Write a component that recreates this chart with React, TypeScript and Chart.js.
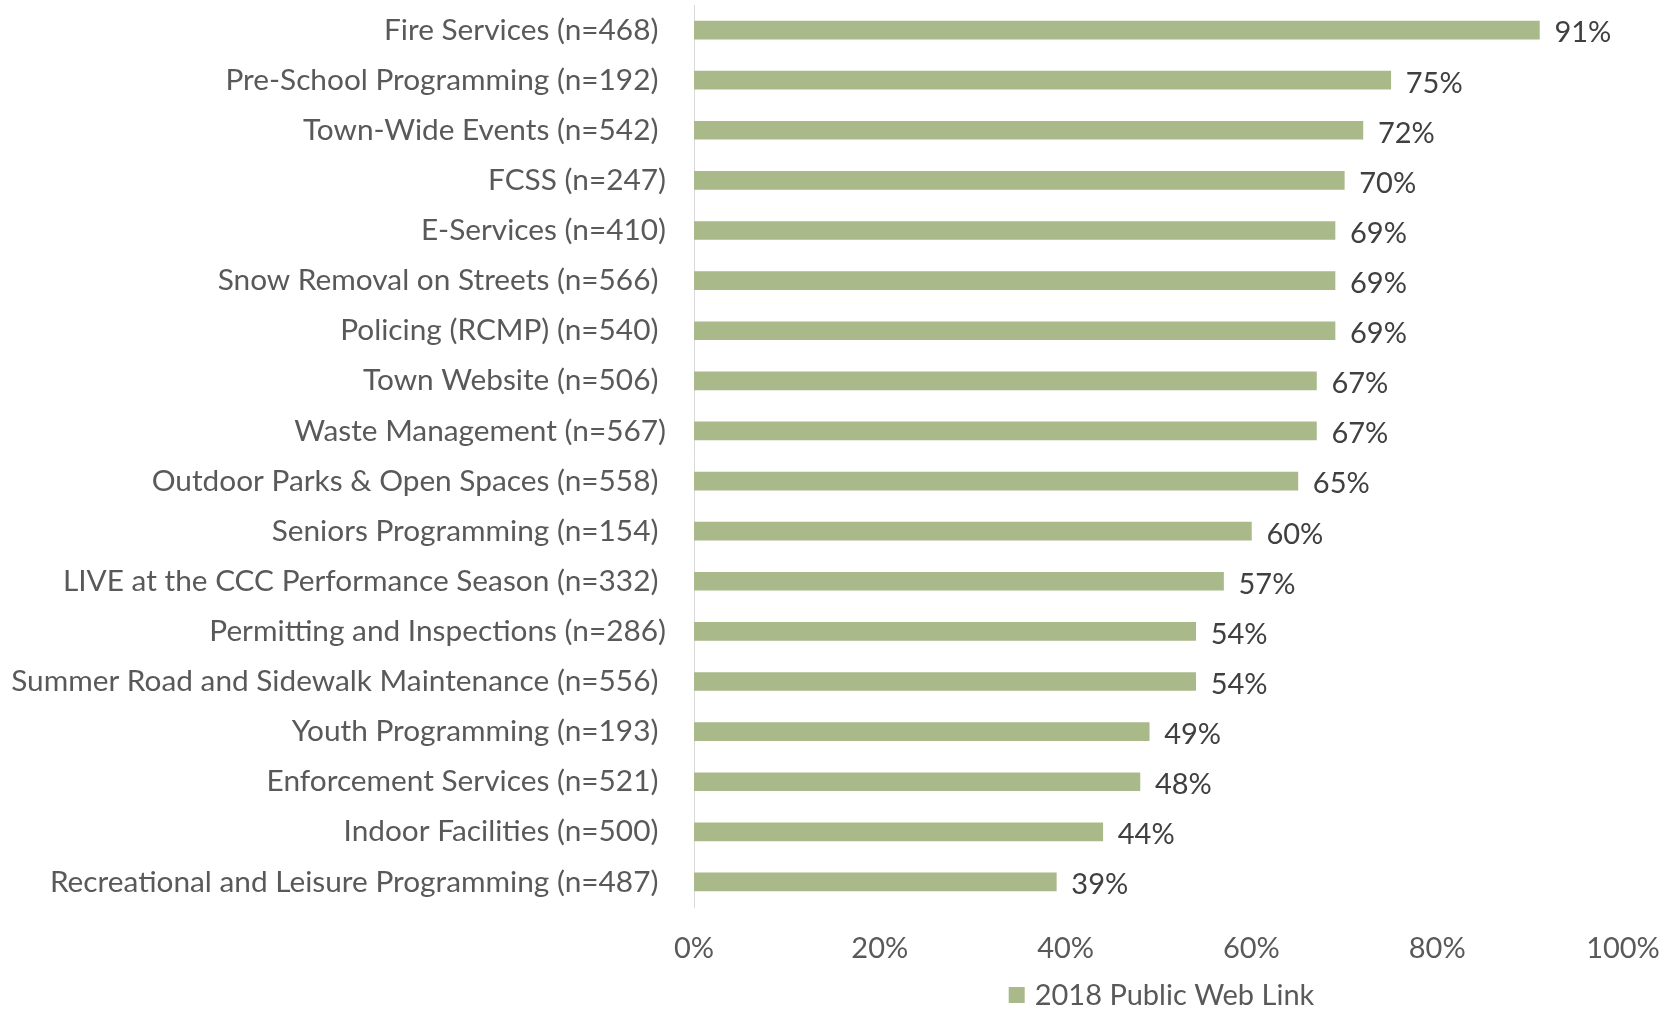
import React, { useEffect, useRef } from "react";
import { Chart, registerables } from "chart.js";

Chart.register(...registerables);

const categories = [
  "Fire Services (n=468) ",
  "Pre-School Programming (n=192) ",
  "Town-Wide Events (n=542) ",
  "FCSS (n=247)",
  "E-Services (n=410)",
  "Snow Removal on Streets (n=566) ",
  "Policing (RCMP) (n=540) ",
  "Town Website (n=506) ",
  "Waste Management (n=567)",
  "Outdoor Parks & Open Spaces (n=558) ",
  "Seniors Programming (n=154) ",
  "LIVE at the CCC Performance Season (n=332) ",
  "Permitting and Inspections (n=286)",
  "Summer Road and Sidewalk Maintenance (n=556) ",
  "Youth Programming (n=193) ",
  "Enforcement Services (n=521) ",
  "Indoor Facilities (n=500) ",
  "Recreational and Leisure Programming (n=487) ",
];

const values = [91, 75, 72, 70, 69, 69, 69, 67, 67, 65, 60, 57, 54, 54, 49, 48, 44, 39];

const seriesLabel = "2018 Public Web Link";

const xTicks = [0, 20, 40, 60, 80, 100];

const FONT_FAMILY = "Lato, 'Open Sans', sans-serif";
const LABEL_SIZE = 29.8;
const SMALL_SIZE = 29;
const AXIS_TEXT = "#595959";
const VALUE_TEXT = "#404040";
const BAR_COLOR = "#A9B98A";

export default function App() {
  const ref = useRef<HTMLCanvasElement>(null);

  useEffect(() => {
    if (!ref.current) return;

    const valueLabels = {
      id: "valueLabels",
      afterDatasetsDraw(chart: any) {
        const ctx = chart.ctx;
        const meta = chart.getDatasetMeta(0);
        ctx.save();
        ctx.font = `${SMALL_SIZE}px ${FONT_FAMILY}`;
        ctx.fillStyle = VALUE_TEXT;
        ctx.textAlign = "left";
        ctx.textBaseline = "middle";
        meta.data.forEach((bar: any, i: number) => {
          ctx.fillText(`${chart.data.datasets[0].data[i]}%`, bar.x + 15, bar.y + 3);
        });
        ctx.restore();
      },
    };

    const customLegend = {
      id: "customLegend",
      afterDraw(chart: any) {
        const ctx = chart.ctx;
        const area = chart.chartArea;
        const text = chart.data.datasets[0].label;
        ctx.save();
        ctx.font = `${SMALL_SIZE}px ${FONT_FAMILY}`;
        const tw = ctx.measureText(text).width;
        const box = 16;
        const gap = 10;
        const total = box + gap + tw;
        const cx = (area.left + area.right) / 2 + 3;
        const cy = area.bottom + 88;
        const x0 = cx - total / 2;
        ctx.fillStyle = BAR_COLOR;
        ctx.fillRect(x0, cy - box / 2, box, box);
        ctx.fillStyle = AXIS_TEXT;
        ctx.textAlign = "left";
        ctx.textBaseline = "middle";
        ctx.fillText(text, x0 + box + gap, cy + 1);
        ctx.restore();
      },
    };

    const chart = new Chart(ref.current, {
      type: "bar",
      data: {
        labels: categories,
        datasets: [
          {
            label: seriesLabel,
            data: values,
            backgroundColor: BAR_COLOR,
            barThickness: 18,
          },
        ],
      },
      options: {
        indexAxis: "y",
        responsive: false,
        maintainAspectRatio: false,
        animation: false,
        layout: { padding: { top: 5, right: 47, bottom: 0, left: 0 } },
        scales: {
          x: {
            min: 0,
            max: 100,
            afterBuildTicks: (scale: any) => {
              scale.ticks = xTicks.map((v) => ({ value: v }));
            },
            ticks: {
              callback: (v: any) => `${v}%`,
              padding: 24,
              font: { family: FONT_FAMILY, size: SMALL_SIZE },
              color: AXIS_TEXT,
              maxRotation: 0,
            },
            grid: { display: false, drawTicks: false },
            border: { display: false },
            afterFit: (scale: any) => {
              scale.height = 102;
              scale.paddingLeft = 0;
              scale.paddingRight = 0;
            },
          },
          y: {
            grid: { display: false, drawTicks: false },
            border: { display: true, color: "#D9D9D9", width: 1 },
            ticks: {
              padding: 28,
              font: { family: FONT_FAMILY, size: LABEL_SIZE },
              color: AXIS_TEXT,
              autoSkip: false,
            },
            afterFit: (scale: any) => {
              scale.width = 694;
              scale.paddingTop = 0;
              scale.paddingBottom = 0;
            },
          },
        },
        plugins: {
          legend: { display: false },
          tooltip: { enabled: false },
        },
      },
      plugins: [valueLabels, customLegend],
    } as any);

    return () => chart.destroy();
  }, []);

  return (
    <div
      style={{
        position: "fixed",
        left: 0,
        top: 0,
        width: 1670,
        height: 1009,
        background: "#ffffff",
      }}
    >
      <canvas
        ref={ref}
        width={1670}
        height={1009}
        style={{ display: "block", width: 1670, height: 1009 }}
      />
    </div>
  );
}
